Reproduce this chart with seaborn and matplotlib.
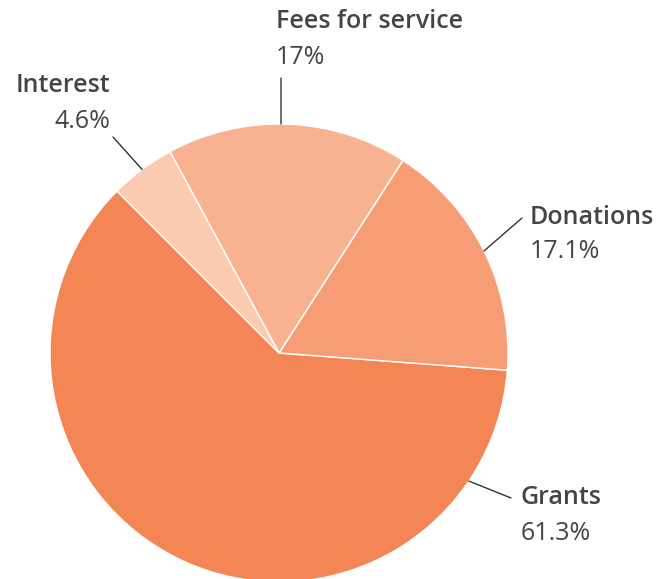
import numpy as np
import matplotlib.pyplot as plt
import seaborn as sns

labels = ['Grants', 'Donations', 'Fees for service', 'Interest']
shares = [61.3, 17.1, 17.0, 4.6]
pct_text = ['61.3%', '17.1%', '17%', '4.6%']
colors = ['#F48656', '#F79D75', '#F8B290', '#FCCAB0']

sns.set_theme(style='white')
plt.rcParams['font.family'] = ['Open Sans', 'DejaVu Sans']

W, H = 667, 579
fig = plt.figure(figsize=(W / 100, H / 100), dpi=100)
ax = fig.add_axes([0, 0, 1, 1])

cx, cy, r = 279, H - 353, 229
wedges, _ = ax.pie(shares, colors=colors, startangle=135, counterclock=True,
                   center=(cx, cy), radius=r,
                   wedgeprops=dict(edgecolor='white', linewidth=1))
ax.set_xlim(0, W)
ax.set_ylim(0, H)
ax.set_aspect('equal')
ax.axis('off')

# label layout: leader angle (deg), line end, text anchor, alignment
layout = {
    'Grants': (-34, (511, 498), (521, 498), 'left'),
    'Donations': (None, (522, 218), (530, 217), 'left'),
    'Fees for service': (89.5, (281, 78), (276, 22), 'left'),
    'Interest': (None, (113, 137), (110, 86), 'right'),
}
txt_color = '#444444'
for w, lab, pct in zip(wedges, labels, pct_text):
    ang, end, tpos, ha = layout[lab]
    if ang is None:
        ang = (w.theta1 + w.theta2) / 2
    a = np.deg2rad(ang)
    sx, sy = cx + r * np.cos(a), cy + r * np.sin(a)
    ax.plot([sx, end[0]], [sy, H - end[1]], color='#333333', lw=1)
    ax.text(tpos[0], H - tpos[1], lab, ha=ha, va='center', fontsize=18,
            fontweight='semibold', color=txt_color)
    ax.text(tpos[0], H - tpos[1] - 35, pct, ha=ha, va='center', fontsize=18,
            color=txt_color)

fig.savefig('out.png', dpi=100)
